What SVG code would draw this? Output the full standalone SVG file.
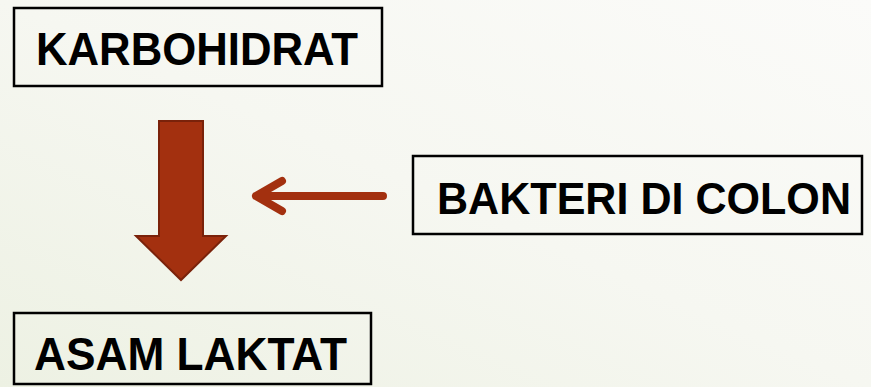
<svg xmlns="http://www.w3.org/2000/svg" width="871" height="387" viewBox="0 0 871 387">
<defs>
<linearGradient id="bg" x1="0" y1="1" x2="1" y2="0">
<stop offset="0" stop-color="#edf1e3"/>
<stop offset="0.5" stop-color="#f6f7f1"/>
<stop offset="1" stop-color="#fbfbf9"/>
</linearGradient>
<style>
.box{fill:none;stroke:#000;stroke-width:2.5}
.lbl{font-family:"Liberation Sans",Arial,sans-serif;font-weight:bold;font-size:46px;fill:#000}
.big{fill:#a3300f;stroke:#7a220a;stroke-width:2}
.thin{fill:none;stroke:#a3300f;stroke-width:8;stroke-linecap:round;stroke-linejoin:round}
</style>
</defs>
<rect width="871" height="387" fill="url(#bg)"/>
<g id="karbohidrat">
<rect class="box" x="14" y="8" width="368" height="78"/>
<text class="lbl" x="36" y="65" textLength="322" lengthAdjust="spacingAndGlyphs">KARBOHIDRAT</text>
</g>
<g id="bakteri">
<rect class="box" x="413" y="156" width="449" height="78"/>
<text class="lbl" x="437" y="214" style="font-size:44px" textLength="414" lengthAdjust="spacingAndGlyphs">BAKTERI DI COLON</text>
</g>
<g id="asam">
<rect class="box" x="14" y="313" width="357" height="71"/>
<text class="lbl" x="34" y="370" textLength="313" lengthAdjust="spacingAndGlyphs">ASAM LAKTAT</text>
</g>
<g id="connectors">
<polygon class="big" points="159,121 203,121 203,236 226,236 181,280 136,236 159,236"/>
<path class="thin" d="M383,196 H256 M282,181 L256,196 L282,211"/>
</g>
</svg>
